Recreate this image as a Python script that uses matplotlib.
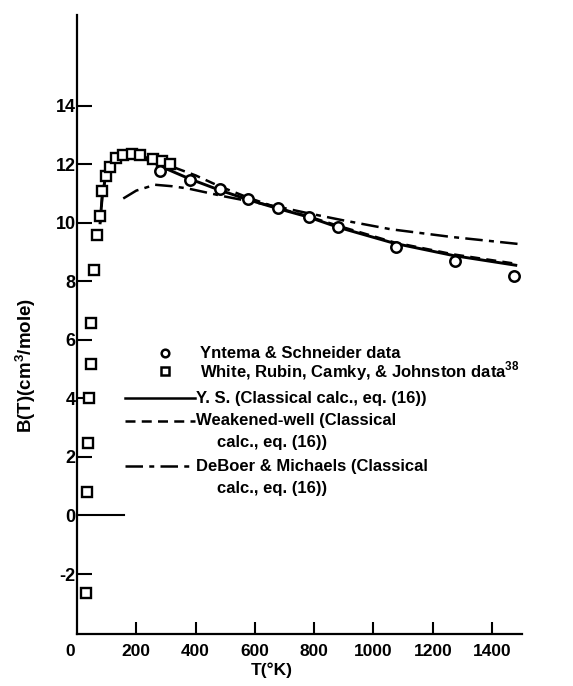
import matplotlib
matplotlib.use("Agg")
import matplotlib.pyplot as plt
from matplotlib.lines import Line2D
from matplotlib.transforms import ScaledTranslation
from matplotlib import font_manager as fm

avail = {f.name for f in fm.fontManager.ttflist}
fam = [f for f in ["Liberation Sans Narrow", "DejaVu Sans Condensed", "Liberation Sans", "DejaVu Sans"] if f in avail]
plt.rcParams['font.family'] = fam
plt.rcParams['mathtext.fontset'] = 'custom'
plt.rcParams['mathtext.rm'] = fam[0]
plt.rcParams['mathtext.bf'] = fam[0] + ':bold'
plt.rcParams['font.weight'] = 'bold'

# ---- data ----
ys_T = [29.6, 34, 36, 42, 47, 47, 57, 67.6, 79, 85.7, 96.8, 111, 130, 156, 186.5, 214, 257, 287, 313]
ys_B = [-2.66, 0.79, 2.46, 4.02, 5.19, 6.58, 8.40, 9.60, 10.23, 11.09, 11.60, 11.90, 12.22, 12.30, 12.34, 12.33, 12.19, 12.11, 12.02]

yn_T = [279, 380, 481, 578, 679, 783, 881, 1077, 1274, 1473]
yn_B = [11.77, 11.47, 11.17, 10.80, 10.49, 10.20, 9.84, 9.17, 8.69, 8.17]

solid_T = [78, 85, 95, 110, 130, 160, 200, 250, 300, 380, 480, 580, 680, 780, 880, 1070, 1270, 1480]
solid_B = [10.0, 10.9, 11.5, 11.95, 12.2, 12.3, 12.28, 12.1, 11.85, 11.5, 11.12, 10.78, 10.48, 10.2, 9.85, 9.3, 8.88, 8.55]

dash_T = [78, 85, 95, 110, 130, 160, 200, 250, 320, 400, 480, 580, 680, 780, 880, 1070, 1270, 1480]
dash_B = [10.0, 10.9, 11.5, 11.95, 12.2, 12.3, 12.3, 12.2, 11.92, 11.62, 11.25, 10.85, 10.5, 10.22, 9.9, 9.33, 8.92, 8.6]

dd_T = [156, 200, 263, 320, 375, 498, 600, 700, 778, 900, 1058, 1260, 1495]
dd_B = [10.83, 11.1, 11.3, 11.25, 11.17, 10.9, 10.7, 10.5, 10.33, 10.08, 9.78, 9.52, 9.27]

zero_T = [0, 160]
zero_B = [0, 0]

x_ticks = [0, 200, 400, 600, 800, 1000, 1200, 1400]
y_ticks = [-2, 0, 2, 4, 6, 8, 10, 12, 14]

W, H = 573, 686
fig = plt.figure(figsize=(W / 100, H / 100), dpi=100)
ax = fig.add_axes([77 / W, 1 - 634 / H, 444.7 / W, 619 / H])
ax.set_xlim(0, 1500)
ax.set_ylim(-4.05, 17.1)
for s in ['top', 'right']:
    ax.spines[s].set_visible(False)
for s in ['left', 'bottom']:
    ax.spines[s].set_linewidth(1.6)

ax.plot(solid_T, solid_B, color='black', lw=2.1, zorder=2)
ax.plot(dash_T, dash_B, color='black', lw=1.8, ls=(0, (4, 2.5)), zorder=2)
ax.plot(dd_T, dd_B, color='black', lw=1.8, ls=(0, (7, 2.5, 2, 2.5)), zorder=2)
ax.plot(zero_T, zero_B, color='black', lw=1.5, zorder=2)

ax.plot(ys_T, ys_B, ls='none', marker='s', ms=7.5, mew=1.7, mfc='white', mec='black', zorder=3, clip_on=False)
ax.plot(yn_T, yn_B, ls='none', marker='o', ms=7.5, mew=1.8, mfc='white', mec='black', zorder=3, clip_on=False)

ax.set_xticks(x_ticks)
ax.set_xticklabels([str(v) for v in x_ticks])
ax.set_yticks(y_ticks)
ax.set_yticklabels([str(v) for v in y_ticks])
ax.tick_params(axis='x', direction='in', length=9, width=1.5, pad=7, labelsize=12.5)
ax.tick_params(axis='y', direction='in', length=11, width=1.5, pad=1, labelsize=13)
t0 = ax.xaxis.get_major_ticks()[0]
t0.tick1line.set_visible(False)
t0.label1.set_transform(t0.label1.get_transform() + ScaledTranslation(-7 / 100, 0, fig.dpi_scale_trans))
ax.yaxis.get_major_ticks()[1].tick1line.set_visible(False)

fig.text(272 / W, 1 - 670 / H, "T(°K)", ha='center', va='center', fontsize=12.5, fontweight='bold')
fig.text(26 / W, 1 - 365 / H, r"B(T)(cm$^{\mathregular{3}}$/mole)", ha='center', va='center',
         rotation=90, fontsize=13.5, fontweight='bold')

# legend (drawn manually to match layout)
def fxy(px, py):
    return px / W, 1 - py / H

fs = 12
fig.add_artist(Line2D([165 / W], [1 - 353 / H], marker='o', ms=5.5, mew=1.8, mfc='white', mec='black', ls='none'))
fig.add_artist(Line2D([165 / W], [1 - 371 / H], marker='s', ms=5.5, mew=1.8, mfc='white', mec='black', ls='none'))
fig.text(*fxy(200, 353), "Yntema & Schneider data", ha='left', va='center', fontsize=fs, fontweight='bold')
fig.text(*fxy(200, 371), r"White, Rubin, Camky, & Johnston data$^{\mathregular{38}}$", ha='left', va='center', fontsize=fs, fontweight='bold')

fig.add_artist(Line2D([125 / W, 195 / W], [1 - 398 / H] * 2, color='black', lw=1.8))
fig.add_artist(Line2D([125 / W, 195 / W], [1 - 421 / H] * 2, color='black', lw=1.8, ls=(0, (4, 2.5))))
fig.add_artist(Line2D([125 / W, 195 / W], [1 - 466 / H] * 2, color='black', lw=1.8, ls=(0, (7, 2.5, 2, 2.5))))
fig.text(*fxy(196, 398), "Y. S. (Classical calc., eq. (16))", ha='left', va='center', fontsize=fs, fontweight='bold')
fig.text(*fxy(196, 421), "Weakened-well (Classical", ha='left', va='center', fontsize=fs, fontweight='bold')
fig.text(*fxy(217, 443), "calc., eq. (16))", ha='left', va='center', fontsize=fs, fontweight='bold')
fig.text(*fxy(196, 466), "DeBoer & Michaels (Classical", ha='left', va='center', fontsize=fs, fontweight='bold')
fig.text(*fxy(217, 489), "calc., eq. (16))", ha='left', va='center', fontsize=fs, fontweight='bold')

fig.savefig("out.png", dpi=100)
